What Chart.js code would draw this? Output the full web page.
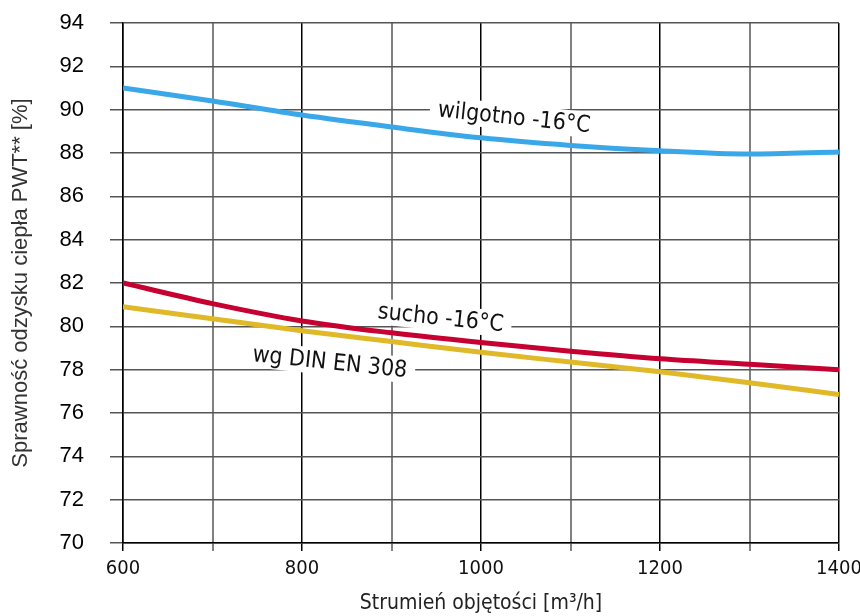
<!DOCTYPE html>
<html><head><meta charset="utf-8">
<script src="https://cdn.jsdelivr.net/npm/chart.js@4.4.0/dist/chart.umd.min.js"></script>
<style>html,body{margin:0;padding:0;background:#fff}#wrap{width:860px;height:616px}</style>
</head><body><div id="wrap"><canvas id="c" width="860" height="616"></canvas></div>
<script>
const xValues = [600, 700, 800, 900, 1000, 1100, 1200, 1300, 1400];
const wilgotno = [91.0, 90.4, 89.75, 89.2, 88.7, 88.35, 88.1, 87.95, 88.05];
const sucho = [82.0, 81.05, 80.25, 79.7, 79.25, 78.85, 78.5, 78.25, 78.0];
const dinEn308 = [80.9, 80.35, 79.8, 79.3, 78.8, 78.35, 77.9, 77.4, 76.85];
const seriesNames = ['wilgotno -16°C', 'sucho -16°C', 'wg DIN EN 308'];
const labelAnchors = [[1037, 89.6], [955, 80.35], [831, 78.3]];

const condensed = "'Liberation Sans Narrow', 'DejaVu Sans Condensed', 'Roboto', sans-serif";

const toPts = arr => arr.map((v, i) => ({x: xValues[i], y: v}));

const curveLabels = {
  id: 'curveLabels',
  beforeDatasetsDraw(chart) {
    this.draw(chart, true);
  },
  afterDatasetsDraw(chart) {
    this.draw(chart, false);
  },
  draw(chart, box) {
    const {ctx, scales: {x, y}} = chart;
    ctx.save();
    ctx.font = "23px " + condensed;
    seriesNames.forEach((t, i) => {
      const px = x.getPixelForValue(labelAnchors[i][0]);
      const py = y.getPixelForValue(labelAnchors[i][1]);
      ctx.save();
      ctx.translate(px, py);
      ctx.rotate(6 * Math.PI / 180);
      const w = ctx.measureText(t).width;
      if (box) {
        ctx.fillStyle = '#fff';
        ctx.fillRect(-w / 2 - 8, -14, w + 16, 26);
      } else {
        ctx.fillStyle = '#111';
        ctx.textAlign = 'center';
        ctx.textBaseline = 'middle';
        ctx.fillText(t, 0, 0);
      }
      ctx.restore();
    });
    ctx.restore();
  }
};

new Chart(document.getElementById('c'), {
  type: 'line',
  data: {
    datasets: [
      {label: seriesNames[0], data: toPts(wilgotno), borderColor: '#3aa8e8'},
      {label: seriesNames[1], data: toPts(sucho), borderColor: '#c70032'},
      {label: seriesNames[2], data: toPts(dinEn308), borderColor: '#e0b928'}
    ].map(d => Object.assign(d, {borderWidth: 5, pointRadius: 0, cubicInterpolationMode: 'monotone', fill: false}))
  },
  options: {
    responsive: false,
    animation: false,
    layout: {padding: {top: 23, right: 21, left: 0, bottom: 0}},
    plugins: {legend: {display: false}, tooltip: {enabled: false}},
    scales: {
      x: {
        type: 'linear', min: 600, max: 1400,
        afterFit: s => { s.height = 73; s.paddingLeft = 0; s.paddingRight = 0; },
        ticks: {stepSize: 100, autoSkip: false, maxRotation: 0, padding: 6,
          color: '#111', font: {family: condensed, size: 20},
          callback: v => (v % 200 === 0 ? String(v) : '')},
        grid: {
          color: c => (c.tick && c.tick.value % 200 === 0 ? '#000' : '#808080'),
          lineWidth: c => (c.tick && c.tick.value % 200 === 0 ? 1.5 : 2),
          tickLength: 8, drawTicks: true
        },
        border: {display: true, color: '#000', width: 1.5},
        title: {display: true, text: 'Strumień objętości [m³/h]', color: '#222',
          font: {family: condensed, size: 21}, padding: {top: 3, bottom: 0}}
      },
      y: {
        min: 70, max: 94,
        afterFit: s => { s.width = 123; s.paddingTop = 0; s.paddingBottom = 0; },
        ticks: {stepSize: 2, padding: 26, color: '#000', font: {family: "'Liberation Sans', Arial, sans-serif", size: 22}},
        grid: {color: '#555', lineWidth: 1.5, tickLength: 13, drawTicks: true},
        border: {display: true, color: '#000', width: 1.5},
        title: {display: true, text: 'Sprawność odzysku ciepła PWT** [%]', color: '#333',
          font: {family: "'Liberation Sans', Arial, sans-serif", size: 22}, padding: {top: 8, bottom: 0}}
      }
    }
  },
  plugins: [curveLabels]
});
</script>
</body></html>
